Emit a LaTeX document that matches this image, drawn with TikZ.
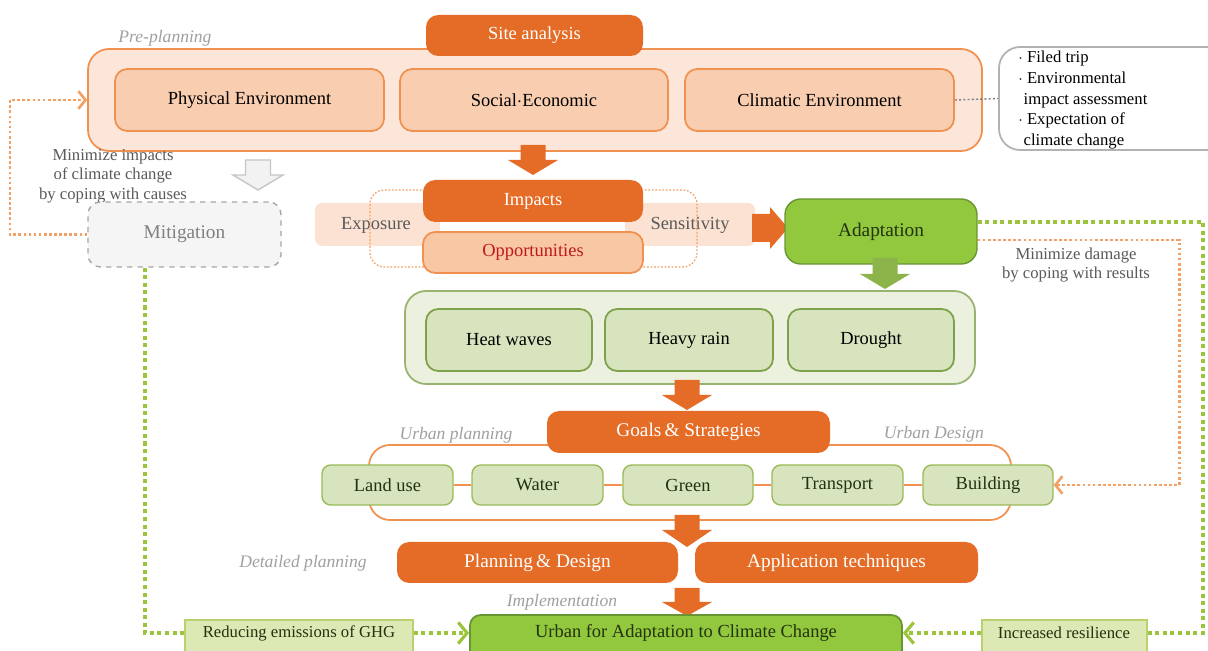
\documentclass[tikz,border=0pt]{standalone}
\usepackage{fontspec}
\setmainfont{Liberation Serif}
\usetikzlibrary{arrows.meta}
\definecolor{orng}{RGB}{228,108,38}
\definecolor{orngline}{RGB}{240,145,80}
\definecolor{peach}{RGB}{252,230,217}
\definecolor{peachbox}{RGB}{249,205,175}
\definecolor{bandfill}{RGB}{251,226,210}
\definecolor{oppfill}{RGB}{248,200,165}
\definecolor{oppred}{RGB}{192,25,25}
\definecolor{adgreen}{RGB}{146,200,62}
\definecolor{adborder}{RGB}{105,150,50}
\definecolor{hzout}{RGB}{235,241,222}
\definecolor{hzbox}{RGB}{215,228,189}
\definecolor{hzline}{RGB}{125,160,75}
\definecolor{rowline}{RGB}{155,187,89}
\definecolor{gtext}{RGB}{35,50,15}
\definecolor{gdotc}{RGB}{155,195,60}
\definecolor{odotc}{RGB}{242,160,100}
\definecolor{botfill}{RGB}{220,233,180}
\definecolor{botline}{RGB}{185,210,110}
\definecolor{arrgreen}{RGB}{140,180,75}
\definecolor{txtgray}{RGB}{90,90,90}
\definecolor{lblgray}{RGB}{160,160,160}
\newcommand\pbox[7]{\node[#2,minimum width={((#5)-(#3))*0.02cm},minimum height={((#6)-(#4))*0.02cm}] (#1) at ({((#3)+(#5))/2},{((#4)+(#6))/2}) {#7};}
\newcommand\darr[5]{\path[#5] ({#1-12.5},#2) -- ({#1+12.5},#2) -- ({#1+12.5},#4) -- ({#1+25},#4) -- (#1,#3) -- ({#1-25},#4) -- ({#1-12.5},#4) -- cycle;}
\tikzset{
  bx/.style={rectangle,rounded corners=7pt,inner sep=0pt,font=\fontsize{10.5}{12}\selectfont},
  darkor/.style={bx,fill=orng,text=white},
  preout/.style={bx,fill=peach,draw=orngline,line width=1pt,rounded corners=12pt},
  prein/.style={bx,fill=peachbox,draw=orngline,line width=1pt,text=black},
  hzo/.style={bx,fill=hzout,draw=hzline!80,line width=1pt,rounded corners=12pt},
  hzi/.style={bx,fill=hzbox,draw=hzline,line width=1pt,text=black},
  rowb/.style={bx,fill=hzbox,draw=rowline,line width=0.8pt,text=gtext,rounded corners=5pt},
  botb/.style={bx,fill=botfill,draw=botline,line width=1pt,rounded corners=0pt,text=gtext,font=\fontsize{9.5}{11}\selectfont},
  lbl/.style={font=\itshape\fontsize{10}{12}\selectfont,text=lblgray,inner sep=0pt},
  small/.style={font=\fontsize{9.5}{11}\selectfont,text=txtgray,align=center,inner sep=0pt},
  odot/.style={draw=odotc,line width=1.7pt,dash pattern=on 1.5pt off 1.4pt},
  gdot/.style={draw=gdotc,line width=2.3pt,dash pattern=on 2.3pt off 2pt},
  otip/.style={-{Straight Barb[length=4pt,width=10pt,line width=1.5pt]}},
  gtip/.style={-{Straight Barb[length=5pt,width=12pt,line width=1.8pt]}},
  oline/.style={draw=orngline,line width=0.8pt},
}
\begin{document}
\begin{tikzpicture}[x=0.02cm,y=-0.02cm]
\useasboundingbox (0,0) rectangle (1208,651);
\clip (0,0) rectangle (1208,651);
\fill[white] (0,0) rectangle (1208,651);
% pre-planning
\node[lbl] (prel) at (165,38) {Pre-planning};
\pbox{pre}{preout}{88}{49}{982}{151}{}
\pbox{phys}{prein}{115}{69}{384}{131}{Physical Environment}
\pbox{soc}{prein}{400}{69}{668}{131}{Social$\cdot$Economic}
\pbox{clim}{prein}{685}{69}{954}{131}{Climatic Environment}
\pbox{site}{darkor}{426}{15}{643}{56}{Site analysis}
% notes
\pbox{notes}{bx,draw=gray!60,line width=1pt,fill=white,rounded corners=12pt}{999}{47}{1230}{150}{}
\node[anchor=north west,inner sep=0pt,align=left,font=\fontsize{9.5}{11.7}\selectfont] (notestxt) at (1018,51) {$\cdot$ Filed trip\\$\cdot$ Environmental\\\hspace*{3pt}impact assessment\\$\cdot$ Expectation of\\\hspace*{3pt}climate change};
\draw[gray,line width=0.8pt,dash pattern=on 1.2pt off 1.2pt] (clim.east) -- (notes.west);
% mitigation
\node[small] (mintxt) at (113,176) {Minimize impacts\\of climate change\\by coping with causes};
\darr{258}{160}{190}{175}{fill=gray!10,draw=gray!45,line width=0.8pt}
\pbox{mitig}{bx,fill=gray!8,draw=gray!70,dashed,line width=0.8pt,text=gray,font=\fontsize{11}{13}\selectfont}{88}{202}{281}{267}{Mitigation}
% impacts group
\darr{533}{145}{175}{160}{fill=orng}
\pbox{band}{bx,fill=bandfill,rounded corners=4pt}{315}{203}{755}{246}{}
\node[inner sep=0pt,text=txtgray,font=\fontsize{10.5}{12}\selectfont] (expo) at (376,225) {Exposure};
\node[inner sep=0pt,text=txtgray,font=\fontsize{10.5}{12}\selectfont] (sens) at (690,225) {Sensitivity};
\fill[white] (440,222) rectangle (625,232);
\draw[odotc,line width=0.7pt,dash pattern=on 1pt off 1pt,rounded corners=8pt] (370,190) rectangle (697,267);
\pbox{imp}{darkor}{423}{180}{643}{222}{Impacts}
\pbox{opp}{bx,fill=oppfill,draw=orngline,line width=1pt,text=oppred}{423}{232}{643}{273}{Opportunities}
% right arrow
\fill[orng] (752,214) -- (770,214) -- (770,207) -- (788,228) -- (770,249) -- (770,242) -- (752,242) -- cycle;
\pbox{adapt}{bx,fill=adgreen,draw=adborder,line width=0.8pt,text=gtext,font=\fontsize{11}{13}\selectfont,rounded corners=9pt}{785}{199}{977}{264}{Adaptation}
\darr{885}{258}{289}{274}{fill=arrgreen}
% hazards
\pbox{haz}{hzo}{405}{291}{975}{384}{}
\pbox{heat}{hzi}{426}{309}{592}{371}{Heat waves}
\pbox{rain}{hzi}{605}{309}{773}{371}{Heavy rain}
\pbox{drought}{hzi}{788}{309}{954}{371}{Drought}
\darr{687}{380}{410}{395}{fill=orng}
% goals
\draw[oline,line width=1pt,rounded corners=12pt] (369,445) rectangle (1011,520);
\pbox{goals}{darkor,font=\fontsize{11}{13}\selectfont}{547}{411}{830}{453}{Goals\,\& Strategies}
\node[lbl] (uplan) at (456,435) {Urban planning};
\node[lbl] (udes) at (934,434) {Urban Design};
\pbox{land}{rowb}{322}{465}{453}{505}{Land use}
\pbox{water}{rowb}{472}{465}{603}{505}{Water}
\pbox{green}{rowb}{623}{465}{753}{505}{Green}
\pbox{trans}{rowb}{772}{465}{903}{505}{Transport}
\pbox{build}{rowb}{923}{465}{1053}{505}{Building}
\draw[oline] (land) -- (water);
\draw[oline] (water) -- (green);
\draw[oline] (green) -- (trans);
\draw[oline] (trans) -- (build);
\darr{687}{515}{547}{530}{fill=orng}
% detailed planning
\node[lbl] (dplan) at (303,563) {Detailed planning};
\pbox{pd}{darkor,font=\fontsize{11}{13}\selectfont}{397}{542}{678}{583}{Planning\,\& Design}
\pbox{app}{darkor,font=\fontsize{11}{13}\selectfont}{695}{542}{978}{583}{Application techniques}
\darr{687}{588}{616}{602}{fill=orng}
\node[lbl] (impl) at (562,602) {Implementation};
\pbox{urban}{bx,fill=adgreen,draw=adborder,line width=1pt,rounded corners=6pt}{470}{615}{902}{665}{}
\node[inner sep=0pt,text=gtext,font=\fontsize{10.5}{12}\selectfont] (urbantxt) at (686,633) {Urban for Adaptation to Climate Change};
\pbox{redu}{botb}{185}{620}{413}{656}{}
\node[inner sep=0pt,text=gtext,font=\fontsize{9.5}{11}\selectfont] (redutxt) at (299,633) {Reducing emissions of GHG};
\pbox{resil}{botb}{982}{620}{1147}{656}{}
\node[inner sep=0pt,text=gtext,font=\fontsize{9.5}{11}\selectfont] (resiltxt) at (1064,633) {Increased resilience};
% feedback connectors
\draw[odot,otip] (mitig.west) -- (10,0 |- mitig.west) |- (pre.west);
\draw[gdot] (145,0 |- mitig.south) |- (redu.west |- redutxt);
\draw[gdot,gtip] (redu.east |- redutxt) -- (urban.west |- redutxt);
\draw[gdot] (adapt.east |- 0,222) -| (1203,0 |- resiltxt) -- (resil.east |- resiltxt);
\draw[gdot,gtip] (resil.west |- resiltxt) -- (urban.east |- resiltxt);
\draw[odot,otip] (adapt.east |- 0,240) -| (1179,0 |- build.east) -- (build.east);
\node[small] (damtxt) at (1076,265) {Minimize damage\\by coping with results};
\end{tikzpicture}
\end{document}
